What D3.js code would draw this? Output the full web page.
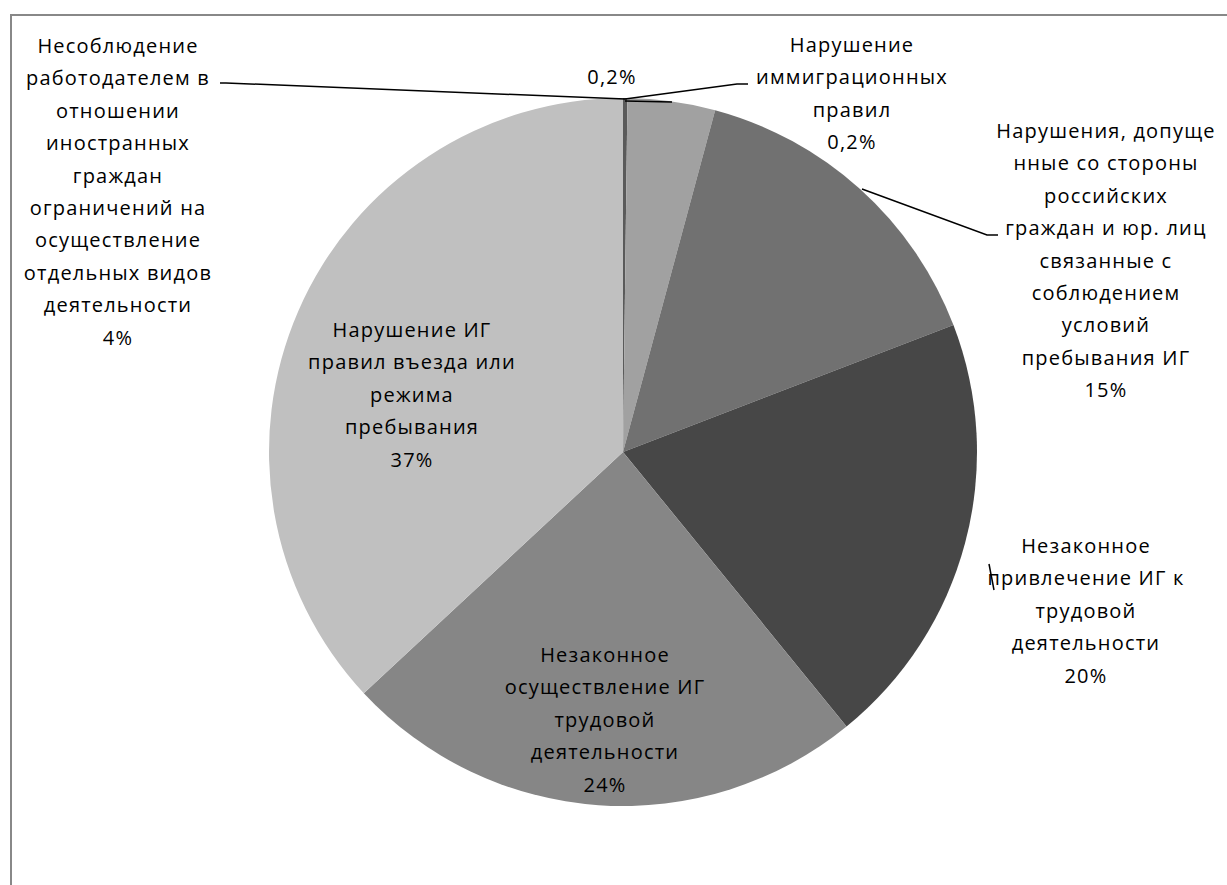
<!DOCTYPE html>
<html>
<head>
<meta charset="utf-8">
<script src="https://cdn.jsdelivr.net/npm/d3@7"></script>
<style>
  body { margin: 0; background: #fff; }
  svg text { font-family: "Open Sans", sans-serif; font-size: 20px; letter-spacing: 1.2px; fill: #000; }
</style>
</head>
<body>
<svg id="chart" width="1227" height="885"></svg>
<script>
// slices clockwise from 12 o'clock
const categories = [
  "Несоблюдение работодателем",
  "Нарушение иммиграционных правил",
  "Нарушения, допущенные со стороны российских граждан и юр. лиц",
  "Незаконное привлечение ИГ к трудовой деятельности",
  "Незаконное осуществление ИГ трудовой деятельности",
  "Нарушение ИГ правил въезда или режима пребывания"
];
const values = [0.2, 4, 15, 20, 24, 37];
const colors = ["#5a5a5a", "#a1a1a1", "#717171", "#474747", "#868686", "#c0c0c0"];

// label text as it is wrapped in the picture
const labelLines = [
  ["Несоблюдение", "работодателем в", "отношении", "иностранных", "граждан",
   "ограничений на", "осуществление", "отдельных видов", "деятельности", "4%"],
  ["Нарушение", "иммиграционных", "правил", "0,2%"],
  ["Нарушения, допуще", "нные со стороны", "российских", "граждан и юр. лиц",
   "связанные с", "соблюдением", "условий", "пребывания ИГ", "15%"],
  ["Незаконное", "привлечение ИГ к", "трудовой", "деятельности", "20%"],
  ["Незаконное", "осуществление ИГ", "трудовой", "деятельности", "24%"],
  ["Нарушение ИГ", "правил въезда или", "режима", "пребывания", "37%"]
];
const extraLabel = "0,2%";

const svg = d3.select("#chart");
const cx = 623, cy = 452, radius = 354;
const lineH = 32.4;

// outer frame (only top/left visible in the picture)
svg.append("rect")
  .attr("x", 11).attr("y", 15)
  .attr("width", 1240).attr("height", 900)
  .attr("fill", "none").attr("stroke", "#888").attr("stroke-width", 2);

const pie = d3.pie().sort(null).value(d => d);
const arc = d3.arc().innerRadius(0).outerRadius(radius);

const g = svg.append("g").attr("transform", "translate(" + cx + "," + cy + ")");

g.selectAll("path")
  .data(pie(values))
  .enter()
  .append("path")
  .attr("d", arc)
  .attr("fill", (d, i) => colors[i]);

// label block centres (x, y of first line), relative to pie centre
const labelAt = [
  [-505, -406], [229, -407], [483, -321], [463, 94], [-18, 203], [-211, -122]
];

labelLines.forEach((lines, i) => {
  const t = g.append("text").attr("text-anchor", "middle");
  lines.forEach((s, j) => {
    t.append("tspan")
      .attr("x", labelAt[i][0])
      .attr("y", labelAt[i][1] + j * lineH)
      .attr("dy", "0.35em")
      .text(s);
  });
});

g.append("text")
  .attr("text-anchor", "middle")
  .attr("x", -11).attr("y", -375).attr("dy", "0.35em")
  .text(extraLabel);

// leader lines
const line = d3.line();
const leaders = [
  [[220, 83], [226, 83], [625, 99]],
  [[625, 99], [737, 84], [748, 84]],
  [[625, 101], [672, 102]],
  [[862, 189], [987, 235], [998, 235]],
  [[989, 564], [994, 590]]
];
svg.selectAll("path.leader")
  .data(leaders)
  .enter()
  .append("path")
  .attr("class", "leader")
  .attr("d", line)
  .attr("fill", "none")
  .attr("stroke", "#000")
  .attr("stroke-width", 1.5);
</script>
</body>
</html>
